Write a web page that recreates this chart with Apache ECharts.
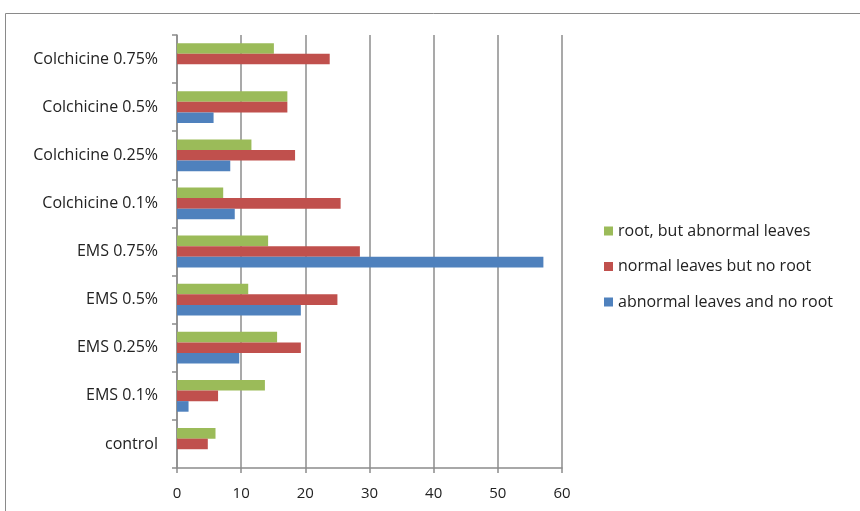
<!DOCTYPE html>
<html>
<head>
<meta charset="utf-8">
<script src="https://cdn.jsdelivr.net/npm/echarts@6/dist/echarts.min.js"></script>
<style>
  html, body { margin: 0; padding: 0; background: #fff; }
  #chart { width: 860px; height: 511px; }
</style>
</head>
<body>
<div id="chart"></div>
<script>
// categories bottom -> top (category axis starts at bottom)
const categories = ['control', 'EMS 0.1%', 'EMS 0.25%', 'EMS 0.5%', 'EMS 0.75%',
  'Colchicine 0.1%', 'Colchicine 0.25%', 'Colchicine 0.5%', 'Colchicine 0.75%']
const abnormalNoRoot = [0, 1.8, 9.7, 19.3, 57.1, 9.0, 8.3, 5.7, 0]
const normalNoRoot = [4.8, 6.4, 19.3, 25.0, 28.5, 25.5, 18.4, 17.2, 23.8]
const rootAbnormal = [6.0, 13.7, 15.6, 11.1, 14.2, 7.2, 11.6, 17.2, 15.1]
const xTicks = [0, 60, 10] // min, max, interval

const chart = echarts.init(document.getElementById('chart'))
const fontFamily = 'Open Sans'
const gridColor = '#8c8c8c'

const option = {
  animation: false,
  textStyle: { fontFamily: fontFamily },
  graphic: [
    {
      type: 'rect',
      shape: { x: 5.5, y: 13.5, width: 900, height: 600 },
      style: { fill: 'none', stroke: '#8a8a8a', lineWidth: 1 },
      silent: true
    }
  ],
  grid: {
    left: 177,
    top: 35,
    right: 298,
    bottom: 43
  },
  legend: {
    data: ['root, but abnormal leaves', 'normal leaves but no root', 'abnormal leaves and no root'],
    orient: 'vertical',
    left: 599,
    top: 218,
    itemWidth: 9,
    itemHeight: 9,
    itemGap: 19.5,
    icon: 'rect',
    textStyle: { fontSize: 16, lineHeight: 16, color: '#222', fontFamily: fontFamily }
  },
  xAxis: {
    type: 'value',
    min: xTicks[0],
    max: xTicks[1],
    interval: xTicks[2],
    axisLine: { show: true, lineStyle: { color: gridColor, width: 1.5 } },
    axisTick: { show: true, length: 5, lineStyle: { color: gridColor, width: 1.5 } },
    axisLabel: { color: '#222', fontSize: 15, margin: 18 },
    splitLine: { show: true, lineStyle: { color: gridColor, width: 1.5 } }
  },
  yAxis: {
    type: 'category',
    data: categories,
    axisLine: { show: true, lineStyle: { color: gridColor, width: 1.5 } },
    axisTick: { show: true, length: 5, lineStyle: { color: gridColor, width: 1.5 } },
    axisLabel: { color: '#222', fontSize: 16, margin: 19 },
    splitLine: { show: false }
  },
  series: [
    {
      name: 'root, but abnormal leaves',
      type: 'bar',
      data: rootAbnormal,
      itemStyle: { color: '#9bbb59' },
      barGap: '0%',
      barCategoryGap: '34%'
    },
    {
      name: 'normal leaves but no root',
      type: 'bar',
      data: normalNoRoot,
      itemStyle: { color: '#c0504d' },
      barGap: '0%',
      barCategoryGap: '34%'
    },
    {
      name: 'abnormal leaves and no root',
      type: 'bar',
      data: abnormalNoRoot,
      itemStyle: { color: '#4f81bd' },
      barGap: '0%',
      barCategoryGap: '34%'
    }
  ]
}
chart.setOption(option)
</script>
</body>
</html>
